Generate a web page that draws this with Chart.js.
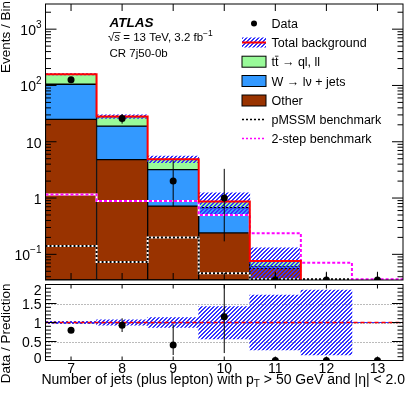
<!DOCTYPE html>
<html lang="en">
<head>
<meta charset="UTF-8">
<title>CR 7j50-0b jet multiplicity</title>
<script src="https://cdn.jsdelivr.net/npm/chart.js@4"></script>
<style>
  body { margin: 0; background: #fff; }
  #wrap { position: relative; width: 407px; height: 393px; }
  canvas { position: absolute; left: 0; top: 0; }
</style>
</head>
<body>
<div id="wrap">
  <canvas id="mainChart" width="407" height="393"></canvas>
  <canvas id="ratioChart" width="407" height="393"></canvas>
</div>

<script>
// bins: number of jets
const nJets = [7, 8, 9, 10, 11, 12, 13];

// background components (events per bin)
const other = [25, 4.8, 0.72, 0.24, 0.057, null, null];
const wJets = [80, 14.1, 2.47, 0.435, 0.003, null, null];
const ttbar = [53, 9.1, 1.71, 0.195, 0.016, null, null];

// data with asymmetric poisson bounds
const dataCounts = [126, 26, 2, 1, 0, 0, 0];
const dataLow = [115, 21, 0.71, 0.17, 0, 0, 0];
const dataHigh = [137.5, 31.1, 4.64, 3.3, 0.049, 0.049, 0.049];

// relative uncertainty on total background
const uncLow = [0.97, 0.93, 0.87, 0.57, 0.28, 0.15, null];
const uncHigh = [1.03, 1.07, 1.13, 1.42, 1.72, 1.85, null];

// signal benchmarks
const pmssm = [0.14, 0.073, 0.2, 0.046, 0.036, 0.036, 0.02];
const twoStep = [1.16, 0.89, 0.89, 0.5, 0.237, 0.071, 0.036];

// axis ticks
const mainTicks = [0.1, 1, 10, 100, 1000];
const ratioTicks = [0, 0.5, 1, 1.5, 2];

const Y_MIN = 0.035, Y_MAX = 2800;
const FLOOR = 0.001;

const C_GREEN = '#99fa99', C_BLUE = '#3399ff', C_BROWN = '#993300';

const font = (size, style) => (style || '') + ' ' + size + 'px "Liberation Sans", Arial, sans-serif';

// 4x4 tile with a 2px wide "/" diagonal, set pixel by pixel
function hatch(r, g, b) {
    const c = document.createElement('canvas');
    c.width = 4; c.height = 4;
    const cx = c.getContext('2d');
    cx.fillStyle = 'rgb(' + r + ',' + g + ',' + b + ')';
    for (let y = 0; y < 4; y++) {
        for (let x = 0; x < 4; x++) {
            const s = (x + y) % 4;
            if (s === 3 || s === 0) cx.fillRect(x, y, 1, 1);
        }
    }
    return cx.createPattern(c, 'repeat');
}
const hatchFill = hatch(51, 51, 255);

// cumulative stack built from the components
const cumOther = other.map(v => v);
const cumW = other.map((v, i) => v == null ? null : v + wJets[i]);
const total = cumW.map((v, i) => v == null ? null : v + ttbar[i]);

function bars(lo, hi) {
    return nJets.map((x, i) => ({ x: x, y: (hi[i] == null) ? null : [lo[i], hi[i]] }));
}
function steps(vals) {
    const pts = vals.map((v, i) => ({ x: nJets[i] - 0.5, y: v == null ? FLOOR : v }));
    pts.push({ x: nJets[nJets.length - 1] + 0.5, y: pts[pts.length - 1].y });
    return pts;
}

function line(ctx, x1, y1, x2, y2) {
    ctx.beginPath(); ctx.moveTo(x1, y1); ctx.lineTo(x2, y2); ctx.stroke();
}

// rich text: list of [text, size, style, dy]
function richWidth(ctx, parts) {
    let w = 0;
    parts.forEach(p => { ctx.font = font(p[1], p[2]); w += ctx.measureText(p[0]).width; });
    return w;
}
function drawRich(ctx, parts, x, y) {
    let cx = x;
    const pos = [];
    parts.forEach(p => {
        ctx.font = font(p[1], p[2]);
        ctx.fillText(p[0], cx, y + (p[3] || 0));
        const w = ctx.measureText(p[0]).width;
        pos.push([cx, w]);
        cx += w;
    });
    return pos;
}

function drawErrors(chart, xs, lows, highs) {
    const ctx = chart.ctx, a = chart.chartArea;
    const sx = chart.scales.x, sy = chart.scales.y;
    ctx.save();
    ctx.beginPath();
    ctx.rect(a.left, a.top, a.right - a.left, a.bottom - a.top);
    ctx.clip();
    ctx.strokeStyle = '#000';
    ctx.lineWidth = 1;
    xs.forEach((x, i) => {
        if (lows[i] == null || highs[i] == null) return;
        const px = sx.getPixelForValue(x);
        line(ctx, px, sy.getPixelForValue(lows[i]), px, sy.getPixelForValue(highs[i]));
    });
    ctx.restore();
}

// ---------------- main panel ----------------
const mainPlugin = {
    id: 'mainDecor',
    beforeDatasetDraw(chart, args) {
        if (args.index === 0) drawErrors(chart, nJets, dataLow, dataHigh);
    },
    afterDraw(chart) {
        const ctx = chart.ctx, a = chart.chartArea;
        const sx = chart.scales.x, sy = chart.scales.y;
        ctx.save();
        ctx.strokeStyle = '#000';
        ctx.lineWidth = 1;
        ctx.strokeRect(a.left, a.top, a.right - a.left, a.bottom - a.top);

        nJets.forEach(v => {
            const px = sx.getPixelForValue(v);
            line(ctx, px, a.bottom, px, a.bottom - 7);
            line(ctx, px, a.top, px, a.top + 7);
        });
        for (let e = -2; e <= 3; e++) {
            for (let m = 1; m <= 9; m++) {
                const v = m * Math.pow(10, e);
                if (v < Y_MIN || v > Y_MAX) continue;
                const py = sy.getPixelForValue(v);
                const len = m === 1 ? 11 : 5.5;
                line(ctx, a.left, py, a.left + len, py);
                line(ctx, a.right, py, a.right - len, py);
            }
        }

        // y labels
        ctx.fillStyle = '#000';
        ctx.textBaseline = 'alphabetic';
        ctx.textAlign = 'left';
        mainTicks.forEach(v => {
            const py = sy.getPixelForValue(v) + 1;
            const e = Math.round(Math.log10(v));
            let parts;
            if (e === 0) parts = [['1', 14]];
            else if (e === 1) parts = [['10', 14]];
            else parts = [['10', 14], [e < 0 ? '\u2212' + (-e) : String(e), 10, '', -7]];
            const w = richWidth(ctx, parts);
            drawRich(ctx, parts, 41.5 - w, py + 5);
        });

        // y title
        ctx.save();
        ctx.translate(10, 1);
        ctx.rotate(-Math.PI / 2);
        ctx.textAlign = 'right';
        ctx.font = font(13.5);
        ctx.fillText('Events / Bin', 0, 0);
        ctx.restore();

        // ATLAS label
        ctx.textAlign = 'left';
        ctx.font = font(13.5, 'italic bold');
        ctx.fillText('ATLAS', 109.5, 27);
        const sq = drawRich(ctx, [['\u221A', 11.5], ['s', 11.5, 'italic'], [' = 13 TeV, 3.2 fb', 11.5], ['\u22121', 8.5, '', -5]], 108, 41);
        ctx.lineWidth = 0.8;
        line(ctx, sq[1][0] - 0.5, 32.5, sq[1][0] + sq[1][1] + 0.5, 32.5);
        ctx.font = font(11.5);
        ctx.fillText('CR 7j50-0b', 109.5, 57);

        // legend
        const lx = 242, lw = 24, tx = 271.5;
        const rows = [23.5, 42.5, 61.7, 81, 100.5, 119.5, 138.5];
        ctx.font = font(12.5);
        // data
        ctx.beginPath();
        ctx.arc(lx + lw / 2, rows[0], 3, 0, Math.PI * 2);
        ctx.fill();
        ctx.fillText('Data', tx, rows[0] + 4.5);
        // total background
        ctx.fillStyle = hatchFill;
        ctx.fillRect(lx, rows[1] - 5, lw, 10);
        ctx.strokeStyle = '#ff0000';
        ctx.lineWidth = 2;
        line(ctx, lx, rows[1], lx + lw, rows[1]);
        ctx.fillStyle = '#000';
        ctx.fillText('Total background', tx, rows[1] + 4.5);
        // boxes
        ctx.lineWidth = 1;
        ctx.strokeStyle = '#000';
        [[C_GREEN, 2], [C_BLUE, 3], [C_BROWN, 4]].forEach(b => {
            ctx.fillStyle = b[0];
            ctx.fillRect(lx, rows[b[1]] - 5.5, lw, 11);
            ctx.strokeRect(lx, rows[b[1]] - 5.5, lw, 11);
        });
        ctx.fillStyle = '#000';
        const tt = drawRich(ctx, [['t', 12.5], ['t', 12.5], [' \u2192 ql, ll', 12.5]], tx, rows[2] + 4.5);
        ctx.lineWidth = 0.8;
        line(ctx, tt[1][0], rows[2] - 5.5, tt[1][0] + tt[1][1], rows[2] - 5.5);
        ctx.font = font(12.5);
        ctx.fillText('W \u2192 l\u03BD + jets', tx, rows[3] + 4.5);
        ctx.fillText('Other', tx, rows[4] + 4.5);
        ctx.fillText('pMSSM benchmark', tx, rows[5] + 4.5);
        ctx.fillText('2-step benchmark', tx, rows[6] + 4.5);
        ctx.lineWidth = 1.5;
        ctx.setLineDash([2, 2]);
        ctx.strokeStyle = '#000';
        line(ctx, lx, rows[5], lx + lw, rows[5]);
        ctx.strokeStyle = '#ff00ff';
        line(ctx, lx, rows[6], lx + lw, rows[6]);
        ctx.setLineDash([]);
        ctx.restore();
    }
};

new Chart(document.getElementById('mainChart'), {
    type: 'bar',
    data: {
        datasets: [
            {
                type: 'line', label: 'Data', order: 0,
                data: nJets.map((x, i) => ({ x: x, y: dataCounts[i] > 0 ? dataCounts[i] : Y_MIN })),
                showLine: false, pointRadius: 3.5, pointBackgroundColor: '#000', pointBorderWidth: 0
            },
            {
                type: 'line', label: 'Total background', order: 1,
                data: steps(total), stepped: true,
                borderColor: '#ff0000', borderWidth: 2, pointRadius: 0, fill: false
            },
            {
                type: 'line', label: '2-step benchmark', order: 2,
                data: steps(twoStep), stepped: true,
                borderColor: '#ff00ff', borderWidth: 2, borderDash: [3, 2], pointRadius: 0, fill: false
            },
            {
                type: 'line', label: '2-step under', order: 3,
                data: steps(twoStep), stepped: true,
                borderColor: '#ffffff', borderWidth: 2, pointRadius: 0, fill: false
            },
            {
                type: 'line', label: 'pMSSM benchmark', order: 4,
                data: steps(pmssm), stepped: true,
                borderColor: '#000000', borderWidth: 2, borderDash: [2, 2], pointRadius: 0, fill: false
            },
            {
                type: 'line', label: 'pMSSM under', order: 5,
                data: steps(pmssm), stepped: true,
                borderColor: '#ffffff', borderWidth: 2, pointRadius: 0, fill: false
            },
            {
                label: 'Uncertainty', order: 6, grouped: false,
                data: bars(total.map((t, i) => t == null || uncLow[i] == null ? null : t * uncLow[i]),
                           total.map((t, i) => t == null || uncHigh[i] == null ? null : t * uncHigh[i])),
                backgroundColor: hatchFill, borderWidth: 0
            },
            {
                label: 'ttbar', order: 7, grouped: false,
                data: bars(cumW, total),
                backgroundColor: C_GREEN, borderColor: '#000', borderWidth: 1, borderSkipped: false
            },
            {
                label: 'W+jets', order: 8, grouped: false,
                data: bars(cumOther, cumW),
                backgroundColor: C_BLUE, borderColor: '#000', borderWidth: 1, borderSkipped: false
            },
            {
                label: 'Other', order: 9, grouped: false,
                data: bars(other.map(() => Y_MIN), cumOther),
                backgroundColor: C_BROWN, borderColor: '#000', borderWidth: 1, borderSkipped: false
            }
        ]
    },
    options: {
        responsive: false,
        animation: false,
        events: [],
        barPercentage: 1,
        categoryPercentage: 1,
        layout: { padding: { left: 45.5, right: 0.5, top: 0.5, bottom: 113 } },
        plugins: { legend: { display: false }, tooltip: { enabled: false } },
        scales: {
            x: { type: 'linear', min: 6.5, max: 13.5, offset: false, display: false,
                 ticks: { stepSize: 1, includeBounds: false } },
            y: { type: 'logarithmic', min: Y_MIN, max: Y_MAX, display: false }
        }
    },
    plugins: [mainPlugin]
});

// ---------------- ratio panel ----------------
const ratio = dataCounts.map((d, i) => total[i] ? d / total[i] : 0);
const ratioLow = dataCounts.map((d, i) => d > 0 && total[i] ? dataLow[i] / total[i] : null);
const ratioHigh = dataCounts.map((d, i) => d > 0 && total[i] ? dataHigh[i] / total[i] : null);

const ratioPlugin = {
    id: 'ratioDecor',
    beforeDatasetsDraw(chart) {
        const ctx = chart.ctx, a = chart.chartArea, sy = chart.scales.y;
        ctx.save();
        ctx.strokeStyle = '#777';
        ctx.lineWidth = 1;
        ctx.setLineDash([1, 2]);
        [0.5, 1, 1.5].forEach(v => {
            const py = Math.round(sy.getPixelForValue(v)) + 0.5;
            line(ctx, a.left, py, a.right, py);
        });
        ctx.restore();
    },
    beforeDatasetDraw(chart, args) {
        if (args.index === 0) drawErrors(chart, nJets, ratioLow, ratioHigh);
    },
    afterDraw(chart) {
        const ctx = chart.ctx, a = chart.chartArea;
        const sx = chart.scales.x, sy = chart.scales.y;
        ctx.save();
        ctx.strokeStyle = '#000';
        ctx.lineWidth = 1;
        ctx.strokeRect(a.left, a.top, a.right - a.left, a.bottom - a.top);
        nJets.forEach(v => {
            const px = sx.getPixelForValue(v);
            line(ctx, px, a.bottom, px, a.bottom - 4);
            line(ctx, px, a.top, px, a.top + 4);
        });
        for (let k = 0; k <= 20; k++) {
            const py = sy.getPixelForValue(k / 10);
            const len = k % 5 === 0 ? 11 : 5.5;
            line(ctx, a.left, py, a.left + len, py);
            line(ctx, a.right, py, a.right - len, py);
        }
        ctx.fillStyle = '#000';
        ctx.font = font(14);
        ctx.textAlign = 'right';
        ctx.textBaseline = 'alphabetic';
        ratioTicks.forEach(v => {
            let py = sy.getPixelForValue(v);
            if (v === 2) py += 5.5;
            if (v === 0) py -= 2.5;
            ctx.fillText(String(v), 41.5, py + 5);
        });
        ctx.textAlign = 'center';
        nJets.forEach(v => {
            ctx.fillText(String(v), sx.getPixelForValue(v), a.bottom + 12);
        });

        // x title
        ctx.textAlign = 'left';
        const parts = [['Number of jets (plus lepton) with p', 14], ['T', 10, '', 3],
                       [' > 50 GeV and |\u03B7| < 2.0', 14]];
        const w = richWidth(ctx, parts);
        drawRich(ctx, parts, 405 - w, 384);

        // y title
        ctx.save();
        ctx.translate(10, a.top - 1);
        ctx.rotate(-Math.PI / 2);
        ctx.textAlign = 'right';
        ctx.font = font(13.5);
        ctx.fillText('Data / Prediction', 0, 0);
        ctx.restore();
        ctx.restore();
    }
};

new Chart(document.getElementById('ratioChart'), {
    type: 'bar',
    data: {
        datasets: [
            {
                type: 'line', label: 'Data / Prediction', order: 0,
                data: nJets.map((x, i) => ({ x: x, y: ratio[i] })),
                showLine: false, pointRadius: 3.5, pointBackgroundColor: '#000', pointBorderWidth: 0
            },
            {
                type: 'line', label: 'Unity', order: 1,
                data: [{ x: 6.5, y: 1 }, { x: 13.5, y: 1 }],
                borderColor: '#ff0000', borderWidth: 1.5, borderDash: [4, 3], pointRadius: 0
            },
            {
                type: 'line', label: 'Unity under', order: 2,
                data: [{ x: 6.5, y: 1 }, { x: 13.5, y: 1 }],
                borderColor: '#3333ff', borderWidth: 1, pointRadius: 0
            },
            {
                label: 'Uncertainty', order: 3, grouped: false,
                data: bars(uncLow, uncHigh),
                backgroundColor: hatchFill, borderWidth: 0
            }
        ]
    },
    options: {
        responsive: false,
        animation: false,
        events: [],
        barPercentage: 1,
        categoryPercentage: 1,
        layout: { padding: { left: 45.5, right: 0.5, top: 284.5, bottom: 32.5 } },
        plugins: { legend: { display: false }, tooltip: { enabled: false } },
        scales: {
            x: { type: 'linear', min: 6.5, max: 13.5, offset: false, display: false,
                 ticks: { stepSize: 1, includeBounds: false } },
            y: { type: 'linear', min: 0, max: 2, display: false }
        }
    },
    plugins: [ratioPlugin]
});
</script>
</body>
</html>
